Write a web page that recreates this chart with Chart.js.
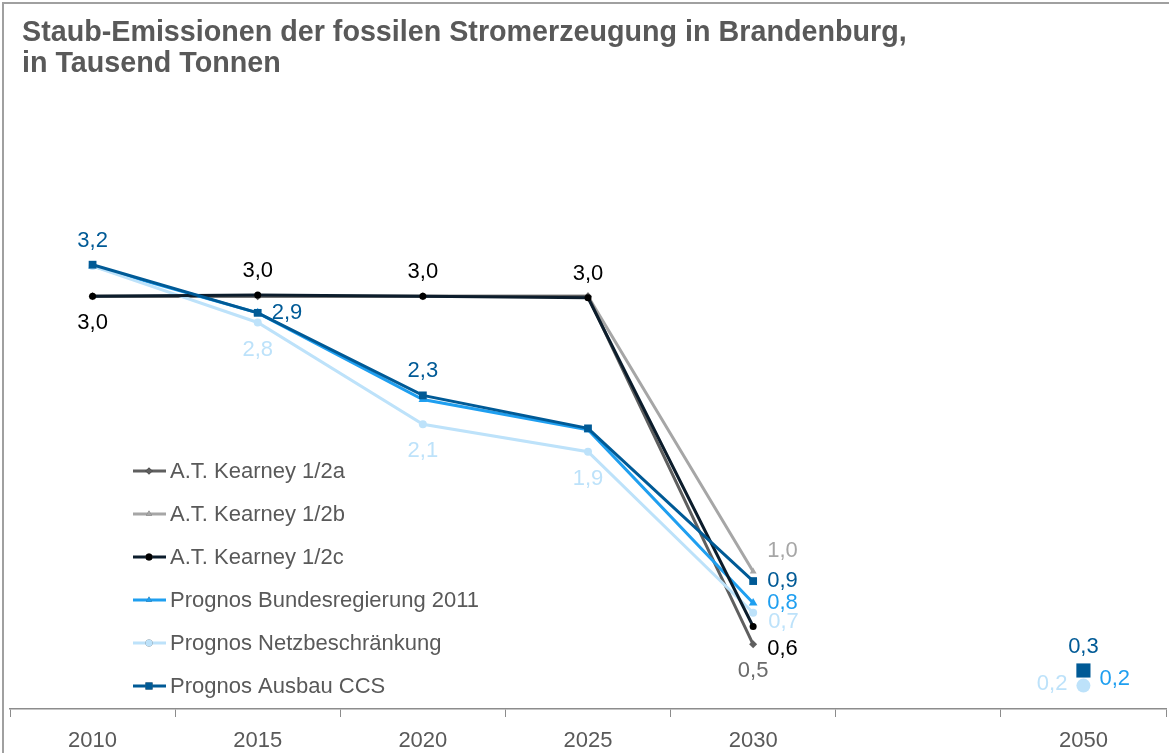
<!DOCTYPE html>
<html>
<head>
<meta charset="utf-8">
<script src="https://cdn.jsdelivr.net/npm/chart.js@4/dist/chart.umd.min.js"></script>
<style>
  html, body { margin: 0; padding: 0; background: #fff; overflow: hidden; }
  #wrap { width: 1169px; height: 753px; position: relative; }
</style>
</head>
<body>
<div id="wrap"><canvas id="canvas"></canvas></div>
<script>
const years = ['2010', '2015', '2020', '2025', '2030', '', '2050'];

const kearneyA = [3.0, 3.0, 3.0, 3.0, 0.47, null, null];
const kearneyB = [3.0, 3.0, 3.0, 3.0, 1.0, null, null];
const kearneyC = [3.0, 3.01, 3.0, 2.99, 0.6, null, null];
const bundesreg = [3.22, 2.88, 2.25, 2.03, 0.77, null, 0.18];
const netz = [3.22, 2.81, 2.07, 1.87, 0.7, null, 0.17];
const ccs = [3.23, 2.88, 2.28, 2.04, 0.93, null, 0.28];

// where the value label sits for each point (null = no label)
const labelsA = [null, null, null, null, 'b', null, null];
const labelsB = [null, null, null, null, 'tr', null, null];
const labelsC = ['b', 't', 't', 't', 'br', null, null];
const labelsBundes = [null, null, null, null, 'r', null, 'r2'];
const labelsNetz = [null, 'b', 'b', 'b', 'r7', null, 'l'];
const labelsCcs = ['t', 'r', 't', null, 'r', null, 't'];

const offsets = {
    t:  { dx: 0, dy: -24, align: 'center' },
    b:  { dx: 0, dy: 27, align: 'center' },
    r:  { dx: 14, dy: 0, align: 'left' },
    r2: { dx: 16, dy: -5, align: 'left' },
    r7: { dx: 15, dy: 9, align: 'left' },
    l:  { dx: -16, dy: -2, align: 'right' },
    tr: { dx: 14, dy: -21, align: 'left' },
    br: { dx: 14, dy: 22, align: 'left' }
};

const FONT = "'Liberation Sans', Arial, sans-serif";
const GREY = '#595959';

function bigLast(small, big) {
    return (c) => c.dataIndex === 6 ? big : small;
}

const datasets = [
    { label: 'A.T. Kearney 1/2a', data: kearneyA, color: '#5f5f5f', text: '#6a6a6a',
      pointStyle: 'rectRot', pointRadius: 4, order: 5, dl: labelsA },
    { label: 'A.T. Kearney 1/2b', data: kearneyB, color: '#a6a6a6', text: '#a6a6a6',
      pointStyle: 'triangle', pointRadius: 4, order: 6, dl: labelsB },
    { label: 'A.T. Kearney 1/2c', data: kearneyC, color: '#0c1d2c', point: '#000000', text: '#000000',
      pointStyle: 'circle', pointRadius: 3.5, order: 2, dl: labelsC },
    { label: 'Prognos Bundesregierung 2011', data: bundesreg, color: '#1f9ff0', text: '#1f9ff0',
      pointStyle: 'triangle', pointRadius: 5, order: 4, dl: labelsBundes },
    { label: 'Prognos Netzbeschränkung', data: netz, color: '#bde2fa', text: '#bde2fa',
      pointStyle: 'circle', pointRadius: bigLast(4, 7), order: 3, dl: labelsNetz },
    { label: 'Prognos Ausbau CCS', data: ccs, color: '#005a96', text: '#005a96',
      pointStyle: 'rect', pointRadius: bigLast(5.5, 10), order: 1, dl: labelsCcs }
].map(d => ({
    label: d.label,
    data: d.data,
    order: d.order,
    borderColor: d.color,
    backgroundColor: d.point || d.color,
    pointBackgroundColor: d.point || d.color,
    pointBorderColor: d.point || d.color,
    pointBorderWidth: 0,
    pointStyle: d.pointStyle,
    pointRadius: d.pointRadius,
    pointHoverRadius: d.pointRadius,
    borderWidth: 3,
    tension: 0,
    spanGaps: false,
    textColor: d.text,
    dataLabels: d.dl
}));

const framePlugin = {
    id: 'frame',
    beforeDraw: (chart) => {
        const ctx = chart.ctx;
        ctx.save();
        ctx.fillStyle = '#ffffff';
        ctx.fillRect(0, 0, chart.width, chart.height);
        ctx.strokeStyle = '#a0a0a0';
        ctx.lineWidth = 2;
        ctx.beginPath();
        ctx.moveTo(3, chart.height);
        ctx.lineTo(3, 3);
        ctx.lineTo(chart.width, 3);
        ctx.stroke();

        ctx.fillStyle = GREY;
        ctx.font = 'bold 28.7px ' + FONT;
        ctx.textAlign = 'left';
        ctx.textBaseline = 'alphabetic';
        ctx.fillText('Staub-Emissionen der fossilen Stromerzeugung in Brandenburg,', 22, 41);
        ctx.fillText('in Tausend Tonnen', 22, 72);
        ctx.restore();
    }
};

const labelPlugin = {
    id: 'valueLabels',
    afterDatasetsDraw: (chart) => {
        const ctx = chart.ctx;
        ctx.save();
        ctx.font = '22px ' + FONT;
        ctx.textBaseline = 'middle';
        chart.data.datasets.forEach((ds, i) => {
            const meta = chart.getDatasetMeta(i);
            ds.data.forEach((v, j) => {
                const pos = ds.dataLabels[j];
                if (v === null || !pos) return;
                const o = offsets[pos];
                const pt = meta.data[j];
                ctx.fillStyle = ds.textColor;
                ctx.textAlign = o.align;
                ctx.fillText(v.toFixed(1).replace('.', ','), pt.x + o.dx, pt.y + o.dy);
            });
        });
        ctx.restore();
    }
};

const legendPlugin = {
    id: 'sideLegend',
    afterDraw: (chart) => {
        const ctx = chart.ctx;
        ctx.save();
        ctx.font = '22px ' + FONT;
        ctx.textBaseline = 'middle';
        ctx.textAlign = 'left';
        chart.data.datasets.forEach((ds, i) => {
            const y = 471 + i * 43;
            ctx.strokeStyle = ds.borderColor;
            ctx.lineWidth = 3;
            ctx.beginPath();
            ctx.moveTo(133, y);
            ctx.lineTo(166, y);
            ctx.stroke();
            Chart.helpers.drawPoint(ctx, {
                pointStyle: ds.pointStyle,
                radius: ds.pointStyle === 'rect' ? 5 : 3.5,
                rotation: 0,
                borderWidth: 0
            }, 149, y);
            ctx.fillStyle = ds.pointBackgroundColor;
            ctx.fill();
            ctx.fillStyle = GREY;
            ctx.fillText(ds.label, 170, y + 1);
        });
        ctx.restore();
    }
};

const chart = new Chart(document.getElementById('canvas').getContext('2d'), {
    type: 'line',
    data: { labels: years, datasets: datasets },
    options: {
        responsive: true,
        maintainAspectRatio: false,
        animation: false,
        layout: { autoPadding: false, padding: { left: 10, right: 3, top: 90, bottom: 0 } },
        plugins: {
            legend: { display: false },
            title: { display: false },
            tooltip: { enabled: false }
        },
        scales: {
            x: {
                offset: true,
                afterFit: (scale) => {
                    scale.paddingLeft = 0;
                    scale.paddingRight = 0;
                    scale.height = 44;
                },
                grid: {
                    offset: true,
                    drawOnChartArea: false,
                    color: '#8c8c8c',
                    tickLength: 8,
                    lineWidth: 1
                },
                border: { display: true, color: '#8c8c8c', width: 1.5 },
                ticks: {
                    color: GREY,
                    font: { family: FONT, size: 22 },
                    padding: 11,
                    maxRotation: 0,
                    autoSkip: false
                }
            },
            y: {
                display: false,
                min: 0,
                max: 4.5
            }
        }
    },
    plugins: [framePlugin, labelPlugin, legendPlugin]
});
</script>
</body>
</html>
